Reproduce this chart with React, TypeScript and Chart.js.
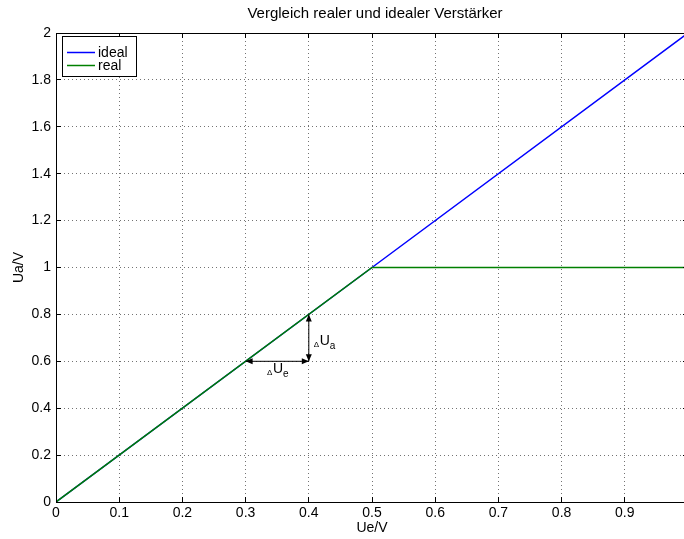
import React, { useEffect, useRef } from "react";
import { Chart, registerables } from "chart.js";

Chart.register(...registerables);

const titleText = "Vergleich realer und idealer Verstärker";
const xAxisLabel = "Ue/V";
const yAxisLabel = "Ua/V";

const xValues = [0, 0.5, 1];
const idealValues = [0, 1, 2];
const realValues = [0, 1, 1];

const seriesNames = ["ideal", "real"];
const seriesColors = ["#0000ff", "#008000"];

const xTickValues = [0, 0.1, 0.2, 0.3, 0.4, 0.5, 0.6, 0.7, 0.8, 0.9, 1];
const yTickValues = [0, 0.2, 0.4, 0.6, 0.8, 1, 1.2, 1.4, 1.6, 1.8, 2];

// annotation arrows (data units)
const deltaUeArrow = { x1: 0.3, y1: 0.6, x2: 0.4, y2: 0.6 };
const deltaUaArrow = { x1: 0.4, y1: 0.6, x2: 0.4, y2: 0.8 };

const FONT = "'Liberation Sans', Arial, sans-serif";
const CW = 700;
const CH = 539;

function fmt(v: number): string {
  return String(Math.round(v * 10) / 10);
}

function arrowHead(ctx: CanvasRenderingContext2D, x: number, y: number, dx: number, dy: number) {
  const len = 7;
  const hw = 3;
  const px = -dy;
  const py = dx;
  ctx.beginPath();
  ctx.moveTo(x, y);
  ctx.lineTo(x - dx * len + px * hw, y - dy * len + py * hw);
  ctx.lineTo(x - dx * len - px * hw, y - dy * len - py * hw);
  ctx.closePath();
  ctx.fill();
}

const decorPlugin = {
  id: "decor",
  beforeDatasetsDraw(chart: any) {
    const ctx = chart.ctx as CanvasRenderingContext2D;
    const a = chart.chartArea;
    const xs = chart.scales.x;
    const ys = chart.scales.y;
    ctx.save();
    ctx.strokeStyle = "rgba(0,0,0,0.55)";
    ctx.lineWidth = 1;
    ctx.setLineDash([1, 3]);
    xTickValues.forEach((v) => {
      if (v <= 0 || v >= 1) return;
      const px = Math.floor(xs.getPixelForValue(v)) + 0.5;
      ctx.beginPath();
      ctx.moveTo(px, a.top);
      ctx.lineTo(px, a.bottom);
      ctx.stroke();
    });
    yTickValues.forEach((v) => {
      if (v <= 0 || v >= 2) return;
      const py = Math.floor(ys.getPixelForValue(v)) + 0.5;
      ctx.beginPath();
      ctx.moveTo(a.left, py);
      ctx.lineTo(a.right, py);
      ctx.stroke();
    });
    ctx.restore();
  },
  afterDraw(chart: any) {
    const ctx = chart.ctx as CanvasRenderingContext2D;
    const a = chart.chartArea;
    const xs = chart.scales.x;
    const ys = chart.scales.y;
    ctx.save();
    // box
    ctx.strokeStyle = "#000";
    ctx.lineWidth = 1;
    ctx.strokeRect(Math.round(a.left) + 0.5, Math.round(a.top) + 0.5, Math.round(a.right - a.left), Math.round(a.bottom - a.top));
    // inward ticks
    const tl = 5;
    xTickValues.forEach((v) => {
      const px = Math.floor(xs.getPixelForValue(v)) + 0.5;
      ctx.beginPath();
      ctx.moveTo(px, a.bottom);
      ctx.lineTo(px, a.bottom - tl);
      ctx.moveTo(px, a.top);
      ctx.lineTo(px, a.top + tl);
      ctx.stroke();
    });
    yTickValues.forEach((v) => {
      const py = Math.floor(ys.getPixelForValue(v)) + 0.5;
      ctx.beginPath();
      ctx.moveTo(a.left, py);
      ctx.lineTo(a.left + tl, py);
      ctx.moveTo(a.right, py);
      ctx.lineTo(a.right - tl, py);
      ctx.stroke();
    });

    // title
    ctx.fillStyle = "#000";
    ctx.font = `15px ${FONT}`;
    ctx.textAlign = "center";
    ctx.textBaseline = "alphabetic";
    ctx.fillText(titleText, (a.left + a.right) / 2 + 3, 18);

    // axis titles
    ctx.font = `14px ${FONT}`;
    ctx.fillText(xAxisLabel, xs.getPixelForValue(0.5), 532);
    ctx.save();
    ctx.translate(23, (a.top + a.bottom) / 2);
    ctx.rotate(-Math.PI / 2);
    ctx.fillText(yAxisLabel, 0, 0);
    ctx.restore();

    // legend
    const lx = 62, ly = 36, lw = 74, lh = 40;
    ctx.fillStyle = "#fff";
    ctx.fillRect(lx, ly, lw, lh);
    ctx.strokeStyle = "#000";
    ctx.strokeRect(lx + 0.5, ly + 0.5, lw, lh);
    ctx.font = `14px ${FONT}`;
    ctx.textAlign = "left";
    ctx.textBaseline = "middle";
    seriesNames.forEach((name, i) => {
      const yy = ly + 16 + i * 13;
      ctx.strokeStyle = seriesColors[i];
      ctx.lineWidth = 1.5;
      ctx.beginPath();
      ctx.moveTo(lx + 5, yy + 0.5);
      ctx.lineTo(lx + 33, yy + 0.5);
      ctx.stroke();
      ctx.fillStyle = "#000";
      ctx.fillText(name, lx + 36, yy + 1);
    });
    ctx.lineWidth = 1;

    // arrows
    ctx.strokeStyle = "#000";
    ctx.fillStyle = "#000";
    const drawArrow = (ar: any) => {
      const x1 = xs.getPixelForValue(ar.x1);
      const y1 = ys.getPixelForValue(ar.y1);
      const x2 = xs.getPixelForValue(ar.x2);
      const y2 = ys.getPixelForValue(ar.y2);
      const L = Math.hypot(x2 - x1, y2 - y1);
      const dx = (x2 - x1) / L;
      const dy = (y2 - y1) / L;
      ctx.beginPath();
      ctx.moveTo(x1, y1);
      ctx.lineTo(x2, y2);
      ctx.stroke();
      arrowHead(ctx, x2, y2, dx, dy);
      arrowHead(ctx, x1, y1, -dx, -dy);
    };
    drawArrow(deltaUeArrow);
    drawArrow(deltaUaArrow);

    // labels
    const drawDelta = (x: number, y: number, sub: string) => {
      ctx.textAlign = "left";
      ctx.textBaseline = "alphabetic";
      ctx.font = `8px ${FONT}`;
      ctx.fillText("Δ", x, y + 2);
      const w1 = ctx.measureText("Δ").width;
      ctx.font = `14px ${FONT}`;
      ctx.fillText("U", x + w1 + 0.5, y);
      const w2 = ctx.measureText("U").width;
      ctx.font = `10px ${FONT}`;
      ctx.fillText(sub, x + w1 + 0.5 + w2, y + 4);
    };
    drawDelta(xs.getPixelForValue(0.334), ys.getPixelForValue(0.552), "e");
    drawDelta(xs.getPixelForValue(0.408), ys.getPixelForValue(0.671), "a");

    ctx.restore();
  },
};

export default function App() {
  const ref = useRef<HTMLCanvasElement | null>(null);
  useEffect(() => {
    if (!ref.current) return;
    const chart = new Chart(ref.current, {
      type: "line",
      data: {
        datasets: [
          {
            label: seriesNames[0],
            data: xValues.map((x, i) => ({ x, y: idealValues[i] })),
            borderColor: seriesColors[0],
            borderWidth: 1.5,
            pointRadius: 0,
            fill: false,
            order: 2,
          },
          {
            label: seriesNames[1],
            data: xValues.map((x, i) => ({ x, y: realValues[i] })),
            borderColor: seriesColors[1],
            borderWidth: 1.5,
            pointRadius: 0,
            fill: false,
            order: 1,
          },
        ],
      },
      options: {
        responsive: false,
        animation: false,
        devicePixelRatio: 1,
        layout: { padding: { left: 0, top: 33, right: 12, bottom: 0 } },
        plugins: {
          legend: { display: false },
          title: { display: false },
          tooltip: { enabled: false },
        },
        scales: {
          x: {
            type: "linear",
            min: 0,
            max: 1,
            afterFit: (s: any) => {
              s.height = 37;
            },
            afterBuildTicks: (s: any) => {
              s.ticks = xTickValues.map((v) => ({ value: v }));
            },
            ticks: {
              autoSkip: false,
              maxRotation: 0,
              padding: 3,
              color: "#000",
              font: { family: FONT, size: 14 },
              callback: (v: any) => (Number(v) >= 0.999 ? "" : fmt(Number(v))),
            },
            grid: { display: false, drawTicks: false },
            border: { display: false },
          },
          y: {
            type: "linear",
            min: 0,
            max: 2,
            afterFit: (s: any) => {
              s.width = 56;
            },
            afterBuildTicks: (s: any) => {
              s.ticks = yTickValues.map((v) => ({ value: v }));
            },
            ticks: {
              autoSkip: false,
              padding: 5,
              color: "#000",
              font: { family: FONT, size: 14 },
              callback: (v: any) => fmt(Number(v)),
            },
            grid: { display: false, drawTicks: false },
            border: { display: false },
          },
        },
      },
      plugins: [decorPlugin],
    });
    return () => chart.destroy();
  }, []);
  return (
    <div style={{ position: "fixed", left: 0, top: 0, width: 684, height: 539, overflow: "hidden", background: "#fff" }}>
      <canvas ref={ref} width={CW} height={CH} style={{ display: "block", width: CW, height: CH }} />
    </div>
  );
}
